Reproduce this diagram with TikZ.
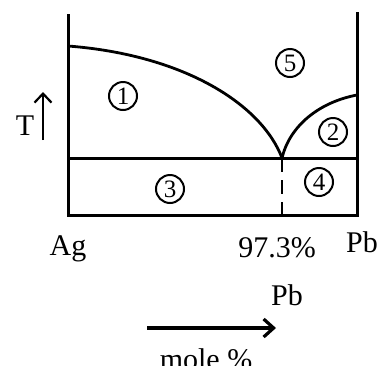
\documentclass[tikz,border=0pt]{standalone}
\usepackage{fontspec}
\setmainfont{Liberation Serif}
\usetikzlibrary{arrows.meta}
\begin{document}
\begin{tikzpicture}[x=1pt,y=-1pt,
  axis/.style={line width=3pt},
  curve/.style={line width=2.8pt},
  num/.style={circle,draw,line width=2pt,minimum size=28pt,inner sep=0pt,font=\fontsize{25}{25}\selectfont},
  lab/.style={font=\fontsize{30}{30}\selectfont,inner sep=0pt,anchor=base}]
\useasboundingbox (0,0) rectangle (380,365);
% frame
\coordinate (lt) at (68,15);
\coordinate (lb) at (68,215);
\coordinate (rt) at (357,13);
\coordinate (rb) at (357,215);
\coordinate (el) at (68,158);
\coordinate (er) at (357,158);
\coordinate (eu) at (282,158);
\coordinate (eb) at (282,215);
\coordinate (ml) at (68,46);
\coordinate (mr) at (357,95);
\draw[axis,line cap=rect] (lt) -- (lb) -- (rb) -- (rt);
\draw[axis] (el) -- (er);
\draw[curve] (ml) .. controls (185,55) and (262,105) .. (eu);
\draw[curve] (eu) .. controls (290,125) and (320,102) .. (mr);
\draw[line width=2.8pt,dash pattern=on 14pt off 8pt] (eu) -- (eb);
% region numbers
\node[num] (n1) at (123,96) {1};
\node[num] (n2) at (333,132) {2};
\node[num] (n3) at (170,189) {3};
\node[num] (n4) at (319,182) {4};
\node[num] (n5) at (290,63) {5};
% T axis
\node[lab] (T) at (25,135) {T};
\coordinate (ta) at (43,140);
\coordinate (tb) at (43,92);
\draw[line width=2.2pt,-{Straight Barb[length=9pt,width=17pt,line width=2.2pt]}] (ta) -- (tb);
% labels
\node[lab] (ag) at (68,255) {Ag};
\node[lab] (pb1) at (362,252) {Pb};
\node[lab] (pc) at (277,257) {97.3\%};
\node[lab] (pb2) at (287,305) {Pb};
\coordinate (ma) at (147,328);
\coordinate (mb) at (276,328);
\draw[line width=3.8pt,-{Straight Barb[length=10pt,width=18pt,line width=3.2pt]}] (ma) -- (mb);
\node[lab] (mole) at (206,369) {mole \%};
\end{tikzpicture}
\end{document}
